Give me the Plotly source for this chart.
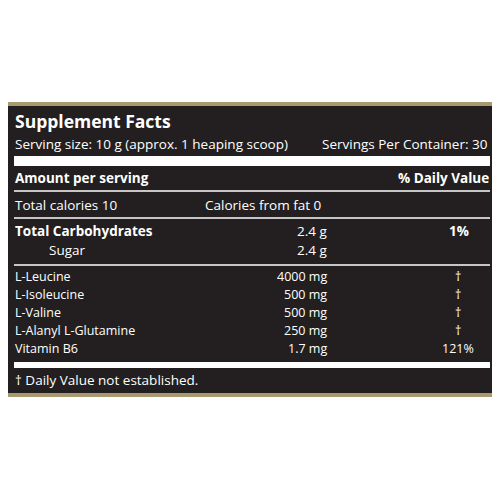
import plotly.graph_objects as go

title = "Supplement Facts"
serving_size = "Serving size: 10 g (approx. 1 heaping scoop)"
servings_per = "Servings Per Container: 30"
footnote = "† Daily Value not established."

carb_names = ["Total Carbohydrates", "Sugar"]
carb_amounts = ["2.4 g", "2.4 g"]
carb_dv = ["1%", ""]

ingredients = ["L-Leucine", "L-Isoleucine", "L-Valine", "L-Alanyl L-Glutamine", "Vitamin B6"]
amounts = ["4000 mg", "500 mg", "500 mg", "250 mg", "1.7 mg"]
daily_values = ["†", "†", "†", "†", "121%"]

FONT = "Open Sans"
WHITE = "#ffffff"

fig = go.Figure()
# the page body adds an 8px offset, so shift the ranges to keep page coordinates
fig.update_xaxes(range=[8, 508], visible=False, fixedrange=True)
fig.update_yaxes(range=[508, 8], visible=False, fixedrange=True)
fig.update_layout(width=500, height=500, margin=dict(l=0, r=0, t=0, b=0),
                  paper_bgcolor="white", plot_bgcolor="white", showlegend=False)

# frame and panel
fig.add_shape(type="rect", x0=0, x1=510, y0=102, y1=397, fillcolor="#a89a6e", line_width=0, layer="below")
fig.add_shape(type="rect", x0=4, x1=496, y0=106, y1=393, fillcolor="#231f20", line_width=0, layer="below")

# rules
for y0, y1 in [(156, 166), (362, 368)]:
    fig.add_shape(type="rect", x0=14, x1=490, y0=y0, y1=y1, fillcolor=WHITE, line_width=0)
for y in [191, 218, 265]:
    fig.add_shape(type="line", x0=14, x1=490, y0=y, y1=y, line=dict(color=WHITE, width=1.5))


def txt(x, y, s, size=12.5, bold=False, anchor="left"):
    fig.add_annotation(x=x, y=y, text=f"<b>{s}</b>" if bold else s, showarrow=False,
                       xanchor=anchor, yanchor="middle",
                       font=dict(family=FONT, size=size, color=WHITE))


txt(13, 121, title, size=17.5, bold=True)
txt(13, 144, serving_size, size=13.5)
txt(490, 144, servings_per, size=13.5, anchor="right")
txt(13, 178, "Amount per serving", size=13.5, bold=True)
txt(491, 178, "% Daily Value", size=13.5, bold=True, anchor="right")
txt(13, 205, "Total calories 10", size=13.5)
txt(203, 205, "Calories from fat 0", size=13.5)

for i, (n, a, d) in enumerate(zip(carb_names, carb_amounts, carb_dv)):
    y = 231 + i * 19
    txt(13 if i == 0 else 47, y, n, size=13.5, bold=(i == 0))
    txt(329, y, a, size=13.5, anchor="right")
    txt(459, y, d, size=13.5, bold=True, anchor="center")

for i, (n, a, d) in enumerate(zip(ingredients, amounts, daily_values)):
    y = 276 + i * 18
    txt(13, y, n, size=12.5)
    txt(329, y, a, size=12.5, anchor="right")
    txt(458, y, d, size=12.5, anchor="center")

txt(13, 380, footnote, size=13.5)

fig.write_html("out.html")
